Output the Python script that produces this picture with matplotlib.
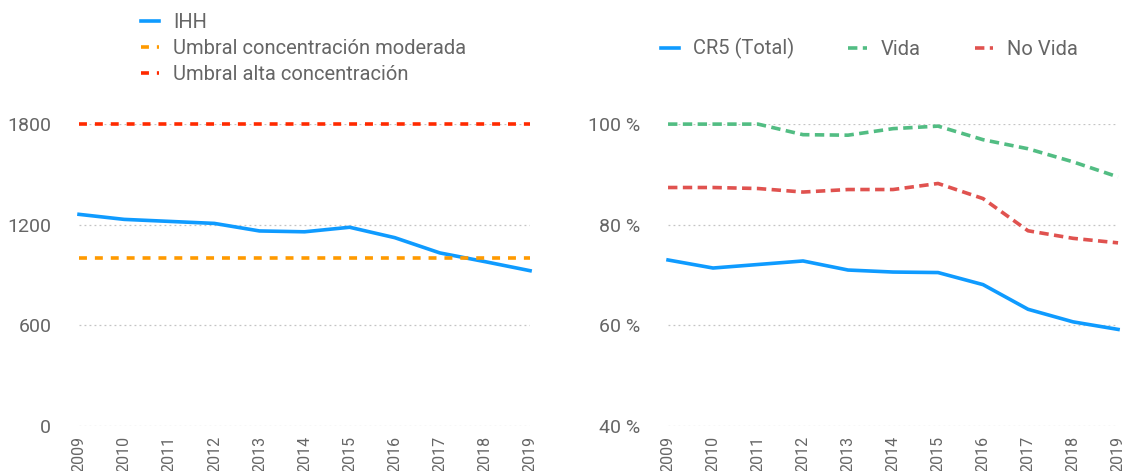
import matplotlib
matplotlib.use("Agg")
import matplotlib.pyplot as plt
from matplotlib.ticker import FuncFormatter

plt.rcParams['font.family'] = ['Roboto', 'DejaVu Sans']

years = list(range(2009, 2020))

# Índice Herfindahl-Hirschman del sector
ihh = [1262, 1232, 1220, 1208, 1163, 1158, 1185, 1123, 1032, 980, 926]
umbral_moderada = 1000
umbral_alta = 1800

# Cuota de los cinco mayores grupos (%)
cr5_total = [73.0, 71.4, 72.1, 72.8, 71.0, 70.6, 70.5, 68.1, 63.2, 60.7, 59.2]
cr5_vida = [100.0, 100.0, 100.0, 97.9, 97.8, 99.1, 99.6, 96.9, 95.1, 92.5, 89.5]
cr5_no_vida = [87.4, 87.4, 87.2, 86.5, 87.0, 87.0, 88.2, 85.2, 78.8, 77.3, 76.4]

BLUE = '#0f9bff'
ORANGE = '#ff9a00'
RED = '#ff2a00'
GREEN = '#52bd83'
SOFT_RED = '#e0524f'
TXT = '#666666'
GRID = '#c4c4c4'

fig = plt.figure(figsize=(11.29, 4.71), dpi=100)
ax1 = fig.add_axes([0.070, 0.0955, 0.3995, 0.641])
ax2 = fig.add_axes([0.5917, 0.0955, 0.3986, 0.641])


def style_axis(ax):
    for s in ax.spines.values():
        s.set_visible(False)
    ax.set_xlim(years[0], years[-1])
    ax.set_xticks(years)
    ax.set_xticklabels([str(y) for y in years], rotation=90, color=TXT,
                       va='top')
    ax.tick_params(axis='both', length=0, labelsize=14, colors=TXT)
    ax.tick_params(axis='x', pad=7, labelsize=11.5)
    ax.tick_params(axis='y', pad=20)
    ax.grid(axis='y', color=GRID, linestyle=(0, (1.5, 2.5)), linewidth=0.9)
    ax.grid(axis='x', visible=False)
    ax.set_axisbelow(True)


# Panel izquierdo: IHH
style_axis(ax1)
ax1.set_ylim(0, 1800)
ax1.set_yticks([0, 600, 1200, 1800])
ax1.plot(years, ihh, color=BLUE, lw=2.6, label='IHH', clip_on=False)
ax1.plot(years, [umbral_moderada] * len(years), color=ORANGE, lw=2.6,
         dashes=(2.2, 2.2), label='Umbral concentración moderada', clip_on=False)
ax1.plot(years, [umbral_alta] * len(years), color=RED, lw=2.6,
         dashes=(2.2, 2.2), label='Umbral alta concentración', clip_on=False)
ax1.legend(loc='upper left', bbox_to_anchor=(0.118, 0.99),
           bbox_transform=fig.transFigure, frameon=False, fontsize=14.5,
           handlelength=0.9, handletextpad=0.7, labelspacing=0.35,
           labelcolor=TXT, borderaxespad=0)

# Panel derecho: CR5
style_axis(ax2)
ax2.set_ylim(40, 100)
ax2.set_yticks([40, 60, 80, 100])
ax2.yaxis.set_major_formatter(FuncFormatter(lambda v, p: f'{v:.0f} %'))
ax2.plot(years, cr5_total, color=BLUE, lw=2.6, label='CR5 (Total)',
         clip_on=False)
ax2.plot(years, cr5_vida, color=GREEN, lw=2.6, dashes=(2.6, 1.5),
         label='Vida', clip_on=False)
ax2.plot(years, cr5_no_vida, color=SOFT_RED, lw=2.6, dashes=(2.6, 1.5),
         label='No Vida', clip_on=False)
ax2.legend(loc='upper left', bbox_to_anchor=(0.578, 0.936),
           bbox_transform=fig.transFigure, frameon=False, fontsize=14.5,
           ncol=3, handlelength=0.9, handletextpad=0.7, columnspacing=2.7,
           labelcolor=TXT, borderaxespad=0)

fig.savefig('out.png', dpi=100)
